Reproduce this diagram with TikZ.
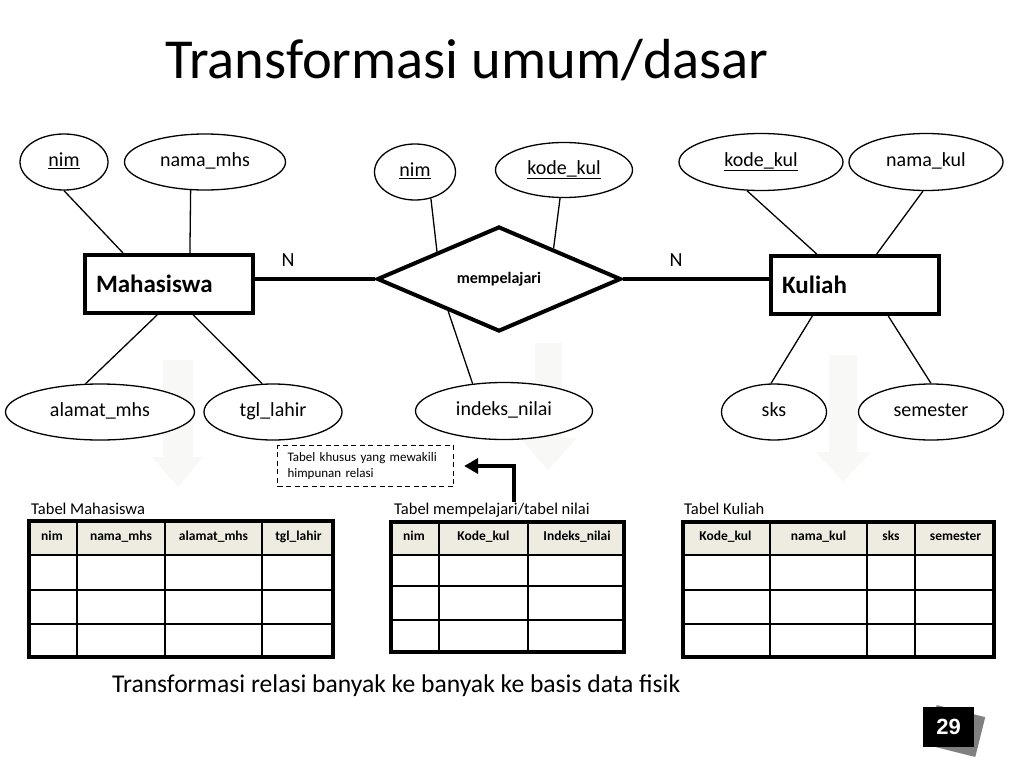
\documentclass[tikz,border=0pt]{standalone}
\usepackage{fontspec}
\setmainfont{Carlito}
\newfontfamily\numfont{Liberation Sans}
\usetikzlibrary{positioning,arrows.meta,calc,shapes.geometric}
\definecolor{headbg}{HTML}{EEECE1}
\definecolor{fadegray}{HTML}{F8F8F6}

\begin{document}
\begin{tikzpicture}[
  x=1pt, y=-1pt,
  attr/.style={ellipse, draw, line width=1.3pt, fill=white, inner sep=0pt, text height=13pt, text depth=4pt, font=\fontsize{20}{24}\selectfont},
  entity/.style={rectangle, draw, line width=4pt, fill=white, minimum width=168pt, minimum height=58pt, text width=146pt, inner xsep=11pt, align=left, font=\fontsize{25}{30}\selectfont\bfseries},
  relation/.style={diamond, draw, line width=4pt, fill=white, minimum width=244pt, minimum height=105pt, aspect=2.3, inner sep=0pt, font=\fontsize{16}{19}\selectfont\bfseries},
  link/.style={line width=1.3pt},
  bond/.style={line width=4pt},
  card/.style={font=\fontsize{20}{24}\selectfont},
  fade/.style={fill=fadegray},
  note/.style={draw, dash pattern=on 5pt off 3.5pt, line width=1.2pt, minimum width=176pt, minimum height=41pt, text width=156pt, inner xsep=10pt, align=left, font=\fontsize{13}{16}\selectfont},
  elbow/.style={line width=4pt, -{Triangle[length=14pt,width=15pt]}},
  caption/.style={anchor=base west, inner sep=0pt, font=\fontsize{16.5}{20}\selectfont},
  colhead/.style={text height=9pt, text depth=3pt, font=\fontsize{13.5}{16}\selectfont\bfseries},
  grid/.style={line width=1.5pt},
  frame/.style={line width=3.5pt}
]
\useasboundingbox (0,0) rectangle (1024,768);

% Title
\node[anchor=base, font=\fontsize{56.5}{66}\selectfont] (title) at (467,78) {Transformasi umum/dasar};

% Faded arrows (behind)
\fill[fade] (163,360) -- (193,360) -- (193,457) -- (203,457) -- (178,487) -- (152,457) -- (163,457) -- cycle;
\fill[fade] (535,343) -- (562,343) -- (562,438) -- (577,438) -- (548,470) -- (520,438) -- (535,438) -- cycle;
\fill[fade] (829,355) -- (857,355) -- (857,452) -- (871,452) -- (843,482) -- (816,452) -- (829,452) -- cycle;

% Entities and relation
\node[entity] (mhs) at (169,284) {Mahasiswa};
\node[entity] (kul) at (855,285) {Kuliah};
\node[relation] (rel) at (499,279) {mempelajari};

% Attributes - Mahasiswa
\node[attr, minimum width=88pt, minimum height=56pt] (mnim) at (64,162) {\underline{nim}};
\node[attr, minimum width=161pt, minimum height=56pt] (mnama) at (205,162) {nama\_mhs};
\node[attr, minimum width=189pt, minimum height=56pt] (malamat) at (100,412) {alamat\_mhs};
\node[attr, minimum width=138pt, minimum height=56pt] (mtgl) at (273,412) {tgl\_lahir};

% Attributes - mempelajari
\node[attr, minimum width=81pt, minimum height=56pt] (rnim) at (415,172) {\underline{nim}};
\node[attr, minimum width=137pt, minimum height=55pt] (rkode) at (564,170) {\underline{kode\_kul}};
\node[attr, minimum width=177pt, minimum height=57pt] (rindeks) at (504,411) {indeks\_nilai};

% Attributes - Kuliah
\node[attr, minimum width=164pt, minimum height=57pt] (kkode) at (761,162) {\underline{kode\_kul}};
\node[attr, minimum width=154pt, minimum height=57pt] (knama) at (926,162) {nama\_kul};
\node[attr, minimum width=105pt, minimum height=56pt] (ksks) at (774,412) {sks};
\node[attr, minimum width=145pt, minimum height=56pt] (ksem) at (931,412) {semester};

% Attribute links
\draw[link] (mnim.south) -- (mhs.146);
\draw[link] (mnama.-117) -- (mhs.56);
\draw[link] (malamat.117) -- (mhs.-111);
\draw[link] (mtgl.111) -- (mhs.-52);
\draw[link] (rnim.-59) -- (rel.north west);
\draw[link] (rkode.-98) -- ($(rel.north)!0.44!(rel.east)$);
\draw[link] (rindeks.139) -- ($(rel.west)!0.59!(rel.south)$);
\draw[link] (kkode.-116) -- (kul.141);
\draw[link] (knama.-96) -- (kul.55);
\draw[link] (ksks.96) -- (kul.-144);
\draw[link] (ksem.north) -- (kul.-43);

% Relationship lines
\draw[bond] (rel.west) -- (rel.west -| mhs.east);
\draw[bond] (rel.east) -- (rel.east -| kul.west);
\node[card] (n1) at (288,260) {N};
\node[card] (n2) at (676,260) {N};

% Note
\node[note] (note) at (365.5,466) {Tabel khusus yang mewakili\\himpunan relasi};

% Tabel Mahasiswa
\node[caption] (capmhs) at (31,514) {Tabel Mahasiswa};
\fill[headbg] (29,521) rectangle (333,555);
\draw[grid] (29,555) -- (333,555) (29,590) -- (333,590) (29,624) -- (333,624);
\draw[grid] (77,521) -- (77,657) (165,521) -- (165,657) (262,521) -- (262,657);
\draw[frame] (29,521) rectangle (333,657);
\node[colhead] (tm1) at (52,537) {nim};
\node[colhead] (tm2) at (121,537) {nama\_mhs};
\node[colhead] (tm3) at (213.5,537) {alamat\_mhs};
\node[colhead] (tm4) at (298.5,537) {tgl\_lahir};

% Tabel mempelajari
\node[caption] (caprel) at (394,514) {Tabel mempelajari/tabel nilai};
\fill[headbg] (391,522) rectangle (624,555);
\draw[grid] (391,555) -- (624,555) (391,586) -- (624,586) (391,620) -- (624,620);
\draw[grid] (439,522) -- (439,652) (528,522) -- (528,652);
\draw[frame] (391,522) rectangle (624,652);
\node[colhead] (tr1) at (414,537) {nim};
\node[colhead] (tr2) at (483.5,537) {Kode\_kul};
\node[colhead] (tr3) at (577,537) {Indeks\_nilai};

% Tabel Kuliah
\node[caption] (capkul) at (684,514) {Tabel Kuliah};
\fill[headbg] (683,522) rectangle (994,555);
\draw[grid] (683,555) -- (994,555) (683,590) -- (994,590) (683,624) -- (994,624);
\draw[grid] (770,522) -- (770,657) (867,522) -- (867,657) (915,522) -- (915,657);
\draw[frame] (683,522) rectangle (994,657);
\node[colhead] (tk1) at (725.5,537) {Kode\_kul};
\node[colhead] (tk2) at (818.5,537) {nama\_kul};
\node[colhead] (tk3) at (891,537) {sks};
\node[colhead] (tk4) at (955.5,537) {semester};

% Arrow to note
\draw[elbow, shorten >=10pt] ([xshift=22pt]caprel.north) |- (note.east);

% Caption
\node[anchor=base west, inner sep=0pt, font=\fontsize{25.6}{30}\selectfont] (summary) at (112,692) {Transformasi relasi banyak ke banyak ke basis data fisik};

% Page number
\node[fill=black!50, minimum width=50pt, minimum height=41pt, rotate=-14] (pgshadow) at (956,731) {};
\node[fill=black, minimum width=51pt, minimum height=40pt, text=white, font=\numfont\fontsize{22}{26}\selectfont\bfseries] (pgnum) at (948.5,727) {29};

\end{tikzpicture}
\end{document}
